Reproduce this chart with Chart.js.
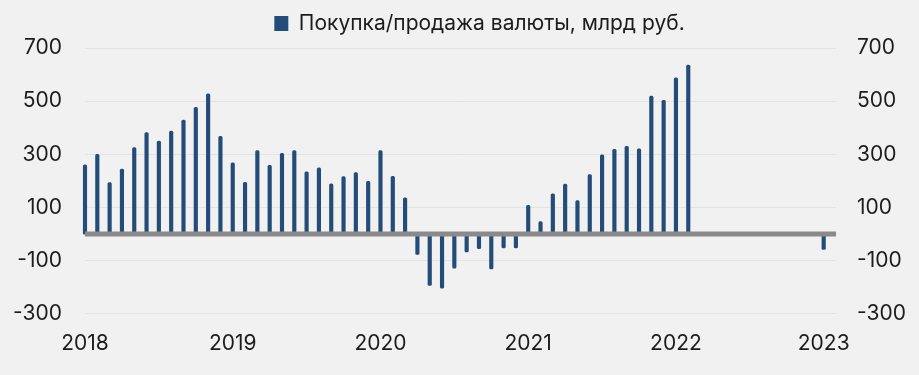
<!DOCTYPE html>
<html lang="ru">
<head>
  <meta charset="UTF-8">
  <title>Покупка/продажа валюты</title>
  <script src="https://cdn.jsdelivr.net/npm/chart.js"></script>
  <style>
    html, body {
      margin: 0;
      padding: 0;
      background: #f1f1f1;
    }
    .wrap {
      width: 919px;
      height: 375px;
    }
  </style>
</head>
<body>
  <div class="wrap"><canvas id="fxChart"></canvas></div>

  <script>
    // данные, млрд руб., помесячно с янв. 2018 по фев. 2023
    const years = ['2018', '2019', '2020', '2021', '2022', '2023'];
    const v2018 = [260, 300, 194, 244, 325, 382, 350, 387, 429, 477, 528, 368];
    const v2019 = [268, 195, 314, 259, 304, 314, 234, 249, 189, 216, 231, 198];
    const v2020 = [314, 217, 136, -77, -193, -204, -128, -67, -55, -131, -52, -52];
    const v2021 = [108, 47, 151, 188, 126, 224, 298, 319, 330, 321, 519, 503];
    const v2022 = [588, 636, null, null, null, null, null, null, null, null, null, null];
    const v2023 = [-58, null];
    const yTicks = [700, 500, 300, 100, -100, -300];

    const values = [].concat(v2018, v2019, v2020, v2021, v2022, v2023);
    const months = [];
    years.forEach(y => {
      for (let m = 1; m <= 12; m++) {
        if (months.length < values.length) months.push(y + '-' + String(m).padStart(2, '0'));
      }
    });

    const font = { family: 'Inter', size: 21 };
    const textColor = '#1c1c1c';

    const bgPlugin = {
      id: 'bg',
      beforeDraw(chart) {
        const c = chart.ctx;
        c.save();
        c.fillStyle = '#f1f1f1';
        c.fillRect(0, 0, chart.width, chart.height);
        c.restore();
      }
    };

    // легенда чуть выше графика и смещена вправо, как в оригинале
    const legendTweak = {
      id: 'legendTweak',
      beforeInit(chart) {
        const fit = chart.legend.fit;
        chart.legend.fit = function () {
          fit.bind(chart.legend)();
          this.height += 4;
        };
      },
      afterLayout(chart) {
        chart.legend.left += 20;
        chart.legend.right += 20;
      }
    };

    new Chart(document.getElementById('fxChart'), {
      type: 'bar',
      data: {
        labels: months,
        datasets: [
          {
            type: 'line',
            label: 'zero',
            data: months.map(() => 0),
            borderColor: '#8a8a8a',
            borderWidth: 5,
            pointRadius: 0,
            clip: false,
            order: 0
          },
          {
            label: 'Покупка/продажа валюты, млрд руб.',
            data: values,
            backgroundColor: '#234c78',
            barThickness: 3.5,
            borderRadius: 1.5,
            borderSkipped: false,
            clip: false,
            order: 1
          }
        ]
      },
      options: {
        responsive: true,
        maintainAspectRatio: false,
        animation: false,
        layout: { padding: { top: 3, bottom: 10 } },
        plugins: {
          tooltip: { enabled: false },
          legend: {
            position: 'top',
            labels: {
              font: { family: 'Inter', size: 21 },
              color: textColor,
              boxWidth: 14,
              boxHeight: 15,
              padding: 10,
              filter: item => item.text !== 'zero'
            }
          }
        },
        scales: {
          x: {
            offset: false,
            grid: { display: false },
            border: { display: false },
            ticks: {
              autoSkip: false,
              maxRotation: 0,
              padding: 9,
              color: textColor,
              font: font,
              callback: function (val, i) {
                const lbl = months[i];
                return lbl.endsWith('-01') ? lbl.slice(0, 4) : '';
              }
            }
          },
          y: {
            position: 'left',
            min: -300,
            max: 700,
            afterBuildTicks: s => { s.ticks = yTicks.map(v => ({ value: v })); },
            afterFit: s => { s.width = 85; },
            grid: { color: '#e3e3e3', drawTicks: false },
            border: { display: false },
            ticks: { padding: 23, color: textColor, font: font }
          },
          y2: {
            position: 'right',
            min: -300,
            max: 700,
            afterBuildTicks: s => { s.ticks = yTicks.map(v => ({ value: v })); },
            afterFit: s => { s.width = 83; },
            grid: { display: false, drawTicks: false },
            border: { display: false },
            ticks: { padding: 21, color: textColor, font: font }
          }
        }
      },
      plugins: [bgPlugin, legendTweak]
    });
  </script>
</body>
</html>
